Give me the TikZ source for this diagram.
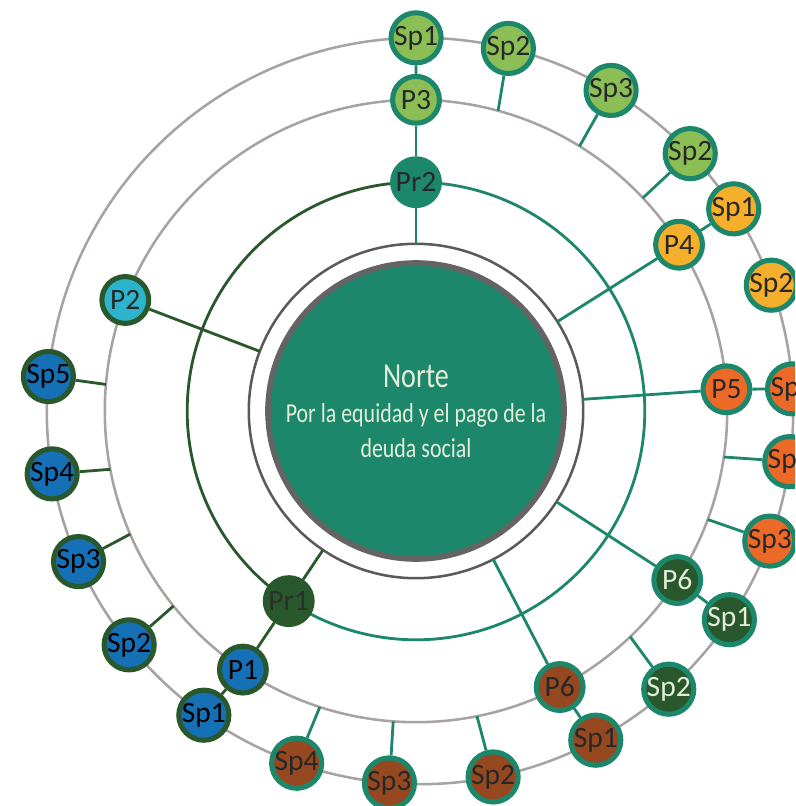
\documentclass[tikz,border=0pt]{standalone}
\usepackage{fontspec}
\setmainfont{Carlito}
\newfontfamily\narrowfont{Carlito}[FakeStretch=0.8]
\usetikzlibrary{calc}
\definecolor{seagreen}{RGB}{28,135,106}
\definecolor{forest}{RGB}{40,88,44}
\definecolor{leaf}{RGB}{139,190,84}
\definecolor{amber}{RGB}{245,175,45}
\definecolor{rust}{RGB}{236,105,40}
\definecolor{clay}{RGB}{150,72,32}
\definecolor{ocean}{RGB}{22,112,182}
\definecolor{sky}{RGB}{45,180,205}
\definecolor{ringgray}{RGB}{168,162,162}
\definecolor{coregray}{RGB}{100,100,100}
\definecolor{ink}{RGB}{40,40,40}
\definecolor{cream}{RGB}{228,238,218}
\tikzset{
    bubble/.style = {circle, draw=seagreen, line width=3.6pt, minimum size=1.17cm, inner sep=0pt,
                     font=\fontsize{21}{21}\selectfont, text=ink},
    leftbubble/.style = {bubble, draw=forest},
    ring/.style = {draw=ringgray, line width=1.8pt},
    link/.style = {draw=seagreen, line width=2pt},
    leftlink/.style = {draw=forest, line width=2pt},
    hub/.style = {circle, draw=coregray!90!black, line width=1.8pt, fill=white, minimum size=8.36cm, inner sep=0pt, outer sep=0pt},
    heart/.style = {circle, draw=coregray, line width=4pt, fill=seagreen, minimum size=7.4cm, align=center,
                    text=cream, font=\narrowfont\fontsize{19.5}{25}\selectfont},
}

\begin{document}
\begin{tikzpicture}
    \useasboundingbox (-10.4,-9.875) rectangle (9.475,10.275);
    \clip (-10.4,-9.875) rectangle (9.475,10.275);
    \fill[white] (-10.4,-9.875) rectangle (9.475,10.275);
    \coordinate (O) at (0,0);
    \coordinate (Os) at (0.1,0);

    % Rings
    \draw[ring] (Os) circle (9.33);
    \draw[ring] (O) circle (7.78);
    \draw[link] (90:5.72) arc (90:-123.8:5.72);
    \draw[leftlink] (90:5.72) arc (90:236.2:5.72);

    % Centre
    \node[hub] (core) at (O) {};
    \node[heart] (norte) at (O) {{\fontsize{25}{30}\selectfont Norte}\\Por la equidad y el pago de la\\deuda social};

    % Pr2 branch
    \node[bubble, fill=seagreen] (Pr2) at (90:5.72) {Pr2};
    \node[bubble, fill=leaf] (P3) at (90:7.78) {P3};
    \node[bubble, fill=leaf] (g1) at ($(Os)+(90.6:9.33)$) {Sp1};
    \node[bubble, fill=leaf] (g2) at ($(Os)+(76.3:9.33)$) {Sp2};
    \node[bubble, fill=leaf] (g3) at ($(Os)+(59.2:9.33)$) {Sp3};
    \node[bubble, fill=leaf] (g4) at ($(Os)+(43.6:9.33)$) {Sp2};

    \node[bubble, fill=amber] (P4) at (32.3:7.78) {P4};
    \node[bubble, fill=amber] (y1) at ($(Os)+(32.8:9.33)$) {Sp1};
    \node[bubble, fill=amber] (y2) at ($(Os)+(19.7:9.33)$) {Sp2};

    \node[bubble, fill=rust] (P5) at (4:7.78) {P5};
    \node[bubble, fill=rust] (o1) at ($(Os)+(3.4:9.33)$) {Sp1};
    \node[bubble, fill=rust] (o2) at ($(Os)+(-7.8:9.33)$) {Sp2};
    \node[bubble, fill=rust] (o3) at ($(Os)+(-20.4:9.33)$) {Sp3};

    \node[bubble, fill=forest, text=cream] (P6) at (-32.9:7.78) {P6};
    \node[bubble, fill=forest, text=cream] (d1) at ($(Os)+(-34:9.33)$) {Sp1};
    \node[bubble, fill=forest, text=cream] (d2) at ($(Os)+(-48.2:9.33)$) {Sp2};

    \node[bubble, fill=clay] (P6b) at (-62.5:7.78) {P6};
    \node[bubble, fill=clay] (b1) at ($(Os)+(-61.9:9.33)$) {Sp1};
    \node[bubble, fill=clay] (b2) at ($(Os)+(-78.7:9.33)$) {Sp2};
    \node[bubble, fill=clay] (b3) at ($(Os)+(-94.7:9.33)$) {Sp3};
    \node[bubble, fill=clay] (b4) at ($(Os)+(-109.3:9.33)$) {Sp4};

    % Pr1 branch
    \node[leftbubble, fill=forest, text=ink!80!forest] (Pr1) at (236.2:5.72) {Pr1};
    \node[leftbubble, fill=ocean, text=black] (P1) at (236.2:7.78) {P1};
    \node[leftbubble, fill=ocean, text=black] (s1) at ($(Os)+(234.6:9.33)$) {Sp1};
    \node[leftbubble, fill=ocean, text=black] (s2) at ($(Os)+(218.8:9.33)$) {Sp2};
    \node[leftbubble, fill=ocean, text=black] (s3) at ($(Os)+(203.8:9.33)$) {Sp3};
    \node[leftbubble, fill=ocean, text=black] (s4) at ($(Os)+(189.7:9.33)$) {Sp4};
    \node[leftbubble, fill=ocean, text=black] (s5) at ($(Os)+(174.7:9.33)$) {Sp5};
    \node[leftbubble, fill=sky] (P2) at (159.1:7.78) {P2};

    % Feet on the P ring
    \coordinate (c75) at (74.7:7.78);
    \coordinate (c58) at (58.3:7.78);
    \coordinate (c43) at (43.2:7.78);
    \coordinate (c-8) at (-8.5:7.78);
    \coordinate (c-20) at (-20.4:7.78);
    \coordinate (c-46) at (-46.5:7.78);
    \coordinate (c-79) at (-78.7:7.78);
    \coordinate (c-94) at (-94.2:7.78);
    \coordinate (c-108) at (-108:7.78);
    \coordinate (c219) at (218.8:7.78);
    \coordinate (c203) at (203.3:7.78);
    \coordinate (c191) at (190.8:7.78);
    \coordinate (c175) at (175.1:7.78);

    % Connections
    \draw[link] (Pr2) -- (core);
    \draw[link] (Pr2) -- (P3);
    \draw[link] (P3) -- (g1);
    \draw[link] (g2) -- (c75);
    \draw[link] (g3) -- (c58);
    \draw[link] (g4) -- (c43);
    \draw[link] (P4) -- (core);
    \draw[link] (P4) -- (y1);
    \draw[link] (P5) -- (core);
    \draw[link] (P5) -- (o1);
    \draw[link] (o2) -- (c-8);
    \draw[link] (o3) -- (c-20);
    \draw[link] (P6) -- (core);
    \draw[link] (P6) -- (d1);
    \draw[link] (d2) -- (c-46);
    \draw[link] (P6b) -- (core);
    \draw[link] (P6b) -- (b1);
    \draw[link] (b2) -- (c-79);
    \draw[link] (b3) -- (c-94);
    \draw[link] (b4) -- (c-108);

    \draw[leftlink] (Pr1) -- (core);
    \draw[leftlink] (Pr1) -- (P1);
    \draw[leftlink] (P1) -- (s1);
    \draw[leftlink] (s2) -- (c219);
    \draw[leftlink] (s3) -- (c203);
    \draw[leftlink] (s4) -- (c191);
    \draw[leftlink] (s5) -- (c175);
    \draw[leftlink] (P2) -- (core);
\end{tikzpicture}
\end{document}
